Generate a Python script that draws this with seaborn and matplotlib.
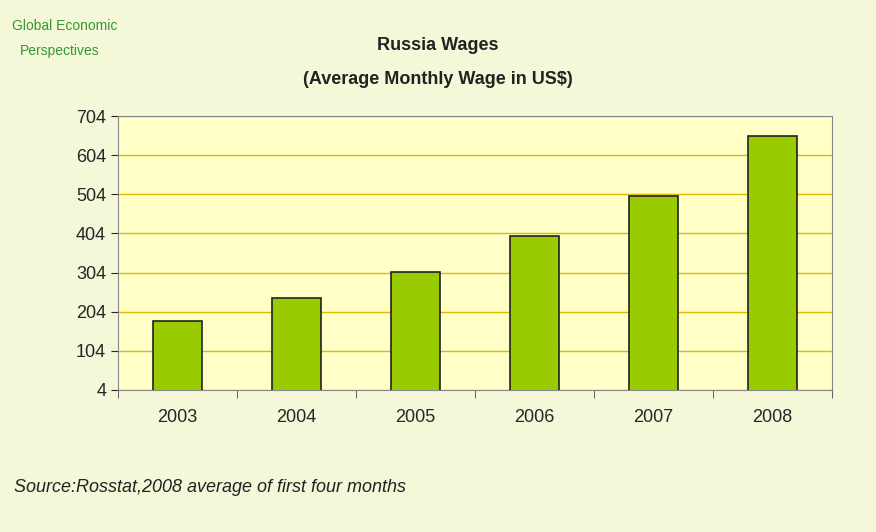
import matplotlib
matplotlib.use("Agg")
import matplotlib.pyplot as plt
import seaborn as sns
import pandas as pd

years = ["2003", "2004", "2005", "2006", "2007", "2008"]
wages = [180, 239, 305, 397, 500, 653]
yticks = [4, 104, 204, 304, 404, 504, 604, 704]

df = pd.DataFrame({"year": years, "wage": wages})

sns.set_style("white")
plt.rcParams['font.family'] = ['Liberation Sans', 'DejaVu Sans']

fig = plt.figure(figsize=(8.76, 5.32), dpi=100, facecolor="#f4f7d8")
ax = fig.add_axes([118 / 876, 1 - 390 / 532, 714 / 876, 274 / 532])
ax.set_facecolor("#ffffc6")

sns.barplot(data=df, x="year", y="wage", color="#99cc00", edgecolor="#222222",
            linewidth=1.2, width=0.42, saturation=1, ax=ax, zorder=3)

ax.set_ylim(4, 704)
ax.set_yticks(yticks)
ax.set_yticklabels([str(t) for t in yticks], fontsize=13)
ax.yaxis.grid(True, color="#e0b800", linewidth=1, zorder=0)
ax.set_axisbelow(True)
ax.set_xlabel("")
ax.set_ylabel("")
ax.tick_params(axis="x", labelsize=13, pad=14, length=0)
ax.tick_params(axis="y", length=5, direction="out", left=True)
for s in ax.spines.values():
    s.set_color("#888888")
# minor ticks between categories
ax.set_xticks([i + 0.5 for i in range(-1, 6)], minor=True)
ax.tick_params(axis="x", which="minor", length=6, bottom=True, color="#444444")

fig.text(0.5, 1 - 50 / 532, "Russia Wages", ha="center", fontsize=13, fontweight="bold", color="#222222")
fig.text(0.5, 1 - 84 / 532, "(Average Monthly Wage in US$)", ha="center", fontsize=13, fontweight="bold", color="#222222")
fig.text(12 / 876, 1 - 30 / 532, "Global Economic", fontsize=10, color="#339933", stretch="condensed")
fig.text(20 / 876, 1 - 55 / 532, "Perspectives", fontsize=10, color="#339933")
fig.text(14 / 876, 1 - 492 / 532, "Source:Rosstat,2008 average of first four months",
         fontsize=13, style="italic", color="#222222")

fig.savefig("out.png", dpi=100, facecolor=fig.get_facecolor())
